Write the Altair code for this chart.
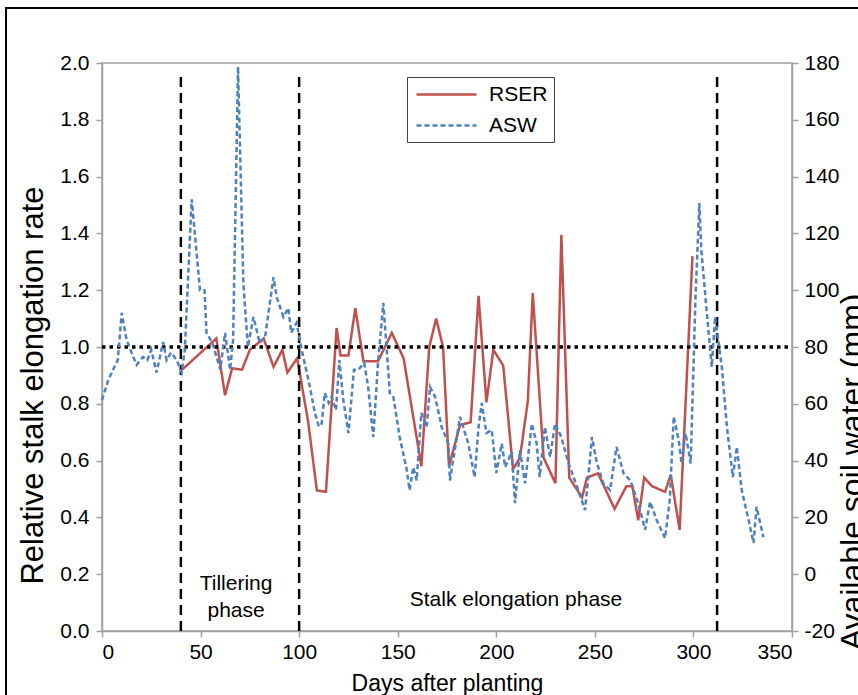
import altair as alt
import pandas as pd

# ---------------- data ----------------
rser_day = [40.6, 58, 62.4, 66, 71, 75, 82, 87, 91.5, 94, 99, 104.5, 109, 113.6, 119, 121, 125,
            128.5, 132.6, 140, 147, 153, 162, 166, 169.5, 173, 176, 181.6, 187, 191, 195, 198.5,
            203.5, 208.5, 212, 216, 218.5, 224, 230, 233, 237, 243.5, 246, 251.6, 260, 266, 269,
            272, 275, 279, 285.6, 288.5, 293, 299.5]
rser_val = [0.92, 1.03, 0.83, 0.925, 0.92, 0.99, 1.03, 0.93, 0.99, 0.91, 0.96, 0.74, 0.495, 0.49,
            1.067, 0.97, 0.97, 1.137, 0.95, 0.95, 1.05, 0.96, 0.58, 1.0, 1.10, 1.0, 0.58, 0.725,
            0.735, 1.18, 0.805, 0.99, 0.935, 0.57, 0.61, 0.81, 1.19, 0.61, 0.52, 1.395, 0.54, 0.47,
            0.54, 0.555, 0.43, 0.51, 0.51, 0.39, 0.54, 0.51, 0.49, 0.55, 0.356, 1.32]

asw_day = [0, 3.2, 5.6, 8, 10, 12.5, 15, 17.6, 20.8, 23, 25, 27.7, 31, 32.8, 35, 37.9, 40.4, 42,
           45.5, 49.7, 52, 53, 56, 60, 62.4, 65, 66.5, 69, 71.7, 74, 76.8, 80, 82.7, 87, 88.6, 92,
           94.5, 96, 98.7, 101.3, 104.7, 106.4, 108, 110, 111.4, 113, 115, 116.5, 118.7, 120.4,
           122.4, 125, 127.8, 130, 133, 135, 137.6, 140, 142.7, 146, 147.8, 151, 154.6, 156,
           157.9, 159.6, 162, 164.7, 166.4, 169, 172.3, 175.7, 176.5, 180, 181.6, 185.8, 189,
           191, 192.6, 195, 197.7, 200, 202.8, 204.5, 207.8, 209.5, 212, 214.6, 218, 220.5, 222,
           224.7, 227.3, 229.8, 233, 236.6, 241.6, 245, 246.7, 248.5, 251, 254.3, 257.7, 261,
           264.5, 268, 272, 275.5, 278, 281.4, 285.6, 288, 290, 292.5, 294, 296, 298.6, 301,
           303, 304, 306.8, 309.3, 311, 314.4, 317, 320, 322, 324.5, 328, 330.5, 332, 335.5]
asw_val = [61.3, 68.4, 72, 75.4, 92, 82.5, 78, 73.7, 76.5, 75.4, 79, 71, 81.8, 75.4, 78, 75.4, 71,
           79, 132, 100, 100, 85, 81.4, 72, 85, 72, 82.5, 178.7, 102.5, 80, 90.6, 81.4, 83.5,
           104.6, 97.6, 90.6, 93.7, 85, 88.5, 79, 68.4, 62.5, 56.8, 52, 53, 63.8, 60.3, 62.5,
           57.8, 75.4, 61.3, 49.7, 72, 72, 74.4, 66, 48.3, 74.4, 95.5, 63.8, 62.4, 48.3, 36.7,
           29.6, 37.7, 33, 56.8, 51.8, 66, 62.4, 51.8, 46, 33, 48.3, 55.4, 46, 34.2, 51.8, 60.3,
           49.7, 50.8, 35.6, 46, 37.7, 43, 25, 43.7, 32, 53, 46, 34.2, 51.8, 41.3, 53, 48.3,
           39.2, 29.6, 22.6, 34.2, 48.3, 39.2, 32, 29.6, 44.8, 35.6, 33, 25, 15.6, 25.5, 19,
           12.7, 26, 55.5, 47.3, 39, 49.7, 39, 96.5, 130.7, 114, 92, 73, 90.6, 73, 51.8, 34.2,
           44.8, 29.6, 19, 11, 23.7, 13]

series_names = ["RSER", "ASW"]
series_colors = ["#C0504D", "#4F81BD"]
phase_bounds = [40, 100, 312]
reference_rate = [1.0]

annot_text = ["Tillering", "phase", "Stalk elongation phase"]
annot_day = [68, 68, 210]
annot_rate = [0.165, 0.07, 0.11]

FONT = "Liberation Sans"

rser_df = pd.DataFrame({"day": rser_day, "rate": rser_val, "series": "RSER"})
asw_df = pd.DataFrame({"day": asw_day, "asw": asw_val, "series": "ASW"})
phase_df = pd.DataFrame({"day": phase_bounds, "y0": 0.0, "y1": 1.97})
ref_df = pd.DataFrame({"rate": reference_rate, "x0": 0, "x1": 350})
annot_df = pd.DataFrame({"text": annot_text, "day": annot_day, "rate": annot_rate})

xscale = alt.Scale(domain=[0, 350], nice=False, zero=False)
left_scale = alt.Scale(domain=[0, 2.0], nice=False, zero=False)
right_scale = alt.Scale(domain=[-20, 180], nice=False, zero=False)
color_scale = alt.Scale(domain=series_names, range=series_colors)
dash_scale = alt.Scale(domain=series_names, range=[[1, 0], [5, 3]])

x_axis = alt.Axis(title="Days after planting", values=list(range(0, 351, 50)), format="d",
                  labelFontSize=21, titleFontSize=23, tickSize=6, labelPadding=4,
                  titleY=52, titleBaseline="middle", grid=False)

legend = alt.Legend(title=None, orient="none", legendX=305, legendY=14, direction="vertical",
                    symbolType="M-3,0H3", symbolSize=400, symbolStrokeWidth=2.5,
                    symbolOffset=22, labelOffset=31,
                    labelFontSize=21, labelFont=FONT, labelColor="black", rowPadding=9,
                    padding=6, strokeColor="#404040", fillColor="white", labelLimit=200)

left_axis = alt.Axis(title="Relative stalk elongation rate", values=[i / 10 for i in range(0, 21, 2)],
                     format=".1f", labelFontSize=21, titleFontSize=31, tickSize=6, labelPadding=7,
                     titleX=-69, titleY=322, titleAngle=270, titleBaseline="middle",
                     titleAlign="center", grid=False)
right_axis = alt.Axis(title="Available soil water (mm)", values=list(range(-20, 181, 20)),
                      labelExpr="toString(datum.value)", labelFontSize=21, titleFontSize=32,
                      tickSize=6, labelPadding=6,
                      titleX=60, titleY=230, titleAngle=270, titleBaseline="middle",
                      titleAlign="right", grid=False)

rser_line = alt.Chart(rser_df).mark_line(strokeWidth=2.5).encode(
    x=alt.X("day:Q", scale=xscale, axis=x_axis),
    y=alt.Y("rate:Q", scale=left_scale, axis=left_axis),
    color=alt.Color("series:N", scale=color_scale, legend=legend),
    strokeDash=alt.StrokeDash("series:N", scale=dash_scale, legend=legend),
    order="day:Q",
)

asw_line = alt.Chart(asw_df).mark_line(strokeWidth=2.5).encode(
    x=alt.X("day:Q", scale=xscale),
    y=alt.Y("asw:Q", scale=right_scale, axis=right_axis),
    color=alt.Color("series:N", scale=color_scale, legend=legend),
    strokeDash=alt.StrokeDash("series:N", scale=dash_scale, legend=legend),
    order="day:Q",
)

phase_rules = alt.Chart(phase_df).mark_rule(color="black", strokeWidth=2.5, strokeDash=[10, 6]).encode(
    x=alt.X("day:Q", scale=xscale),
    y=alt.Y("y0:Q", scale=left_scale),
    y2="y1:Q",
)

ref_rule = alt.Chart(ref_df).mark_rule(color="black", strokeWidth=3.5, strokeDash=[3.5, 4]).encode(
    y=alt.Y("rate:Q", scale=left_scale),
    x=alt.X("x0:Q", scale=xscale),
    x2="x1:Q",
)

annots = alt.Chart(annot_df).mark_text(font=FONT, fontSize=21, color="black", align="center",
                                       baseline="middle").encode(
    x=alt.X("day:Q", scale=xscale),
    y=alt.Y("rate:Q", scale=left_scale),
    text="text:N",
)

frame = alt.Chart(rser_df).mark_rect(fill=None, stroke="black", strokeWidth=1.5).encode(
    x=alt.value(-96), x2=alt.value(900), y=alt.value(-55), y2=alt.value(800)
)

left_layer = alt.layer(rser_line, phase_rules, ref_rule, annots)
chart = alt.layer(left_layer, asw_line, frame).resolve_scale(y="independent").properties(
    width=690, height=568,
    autosize=alt.AutoSizeParams(type="none"),
    padding={"left": 102, "top": 63, "right": 66, "bottom": 64},
).configure_view(stroke="#A0A0A0", strokeWidth=1.5).configure_axis(
    labelFont=FONT, titleFont=FONT, labelColor="black", titleColor="black",
    titleFontWeight="normal", domainColor="#A0A0A0", tickColor="#A0A0A0",
    domainWidth=1.5, tickWidth=1.5,
)

chart.save("out.html", embed_options={"renderer": "svg", "actions": False})
